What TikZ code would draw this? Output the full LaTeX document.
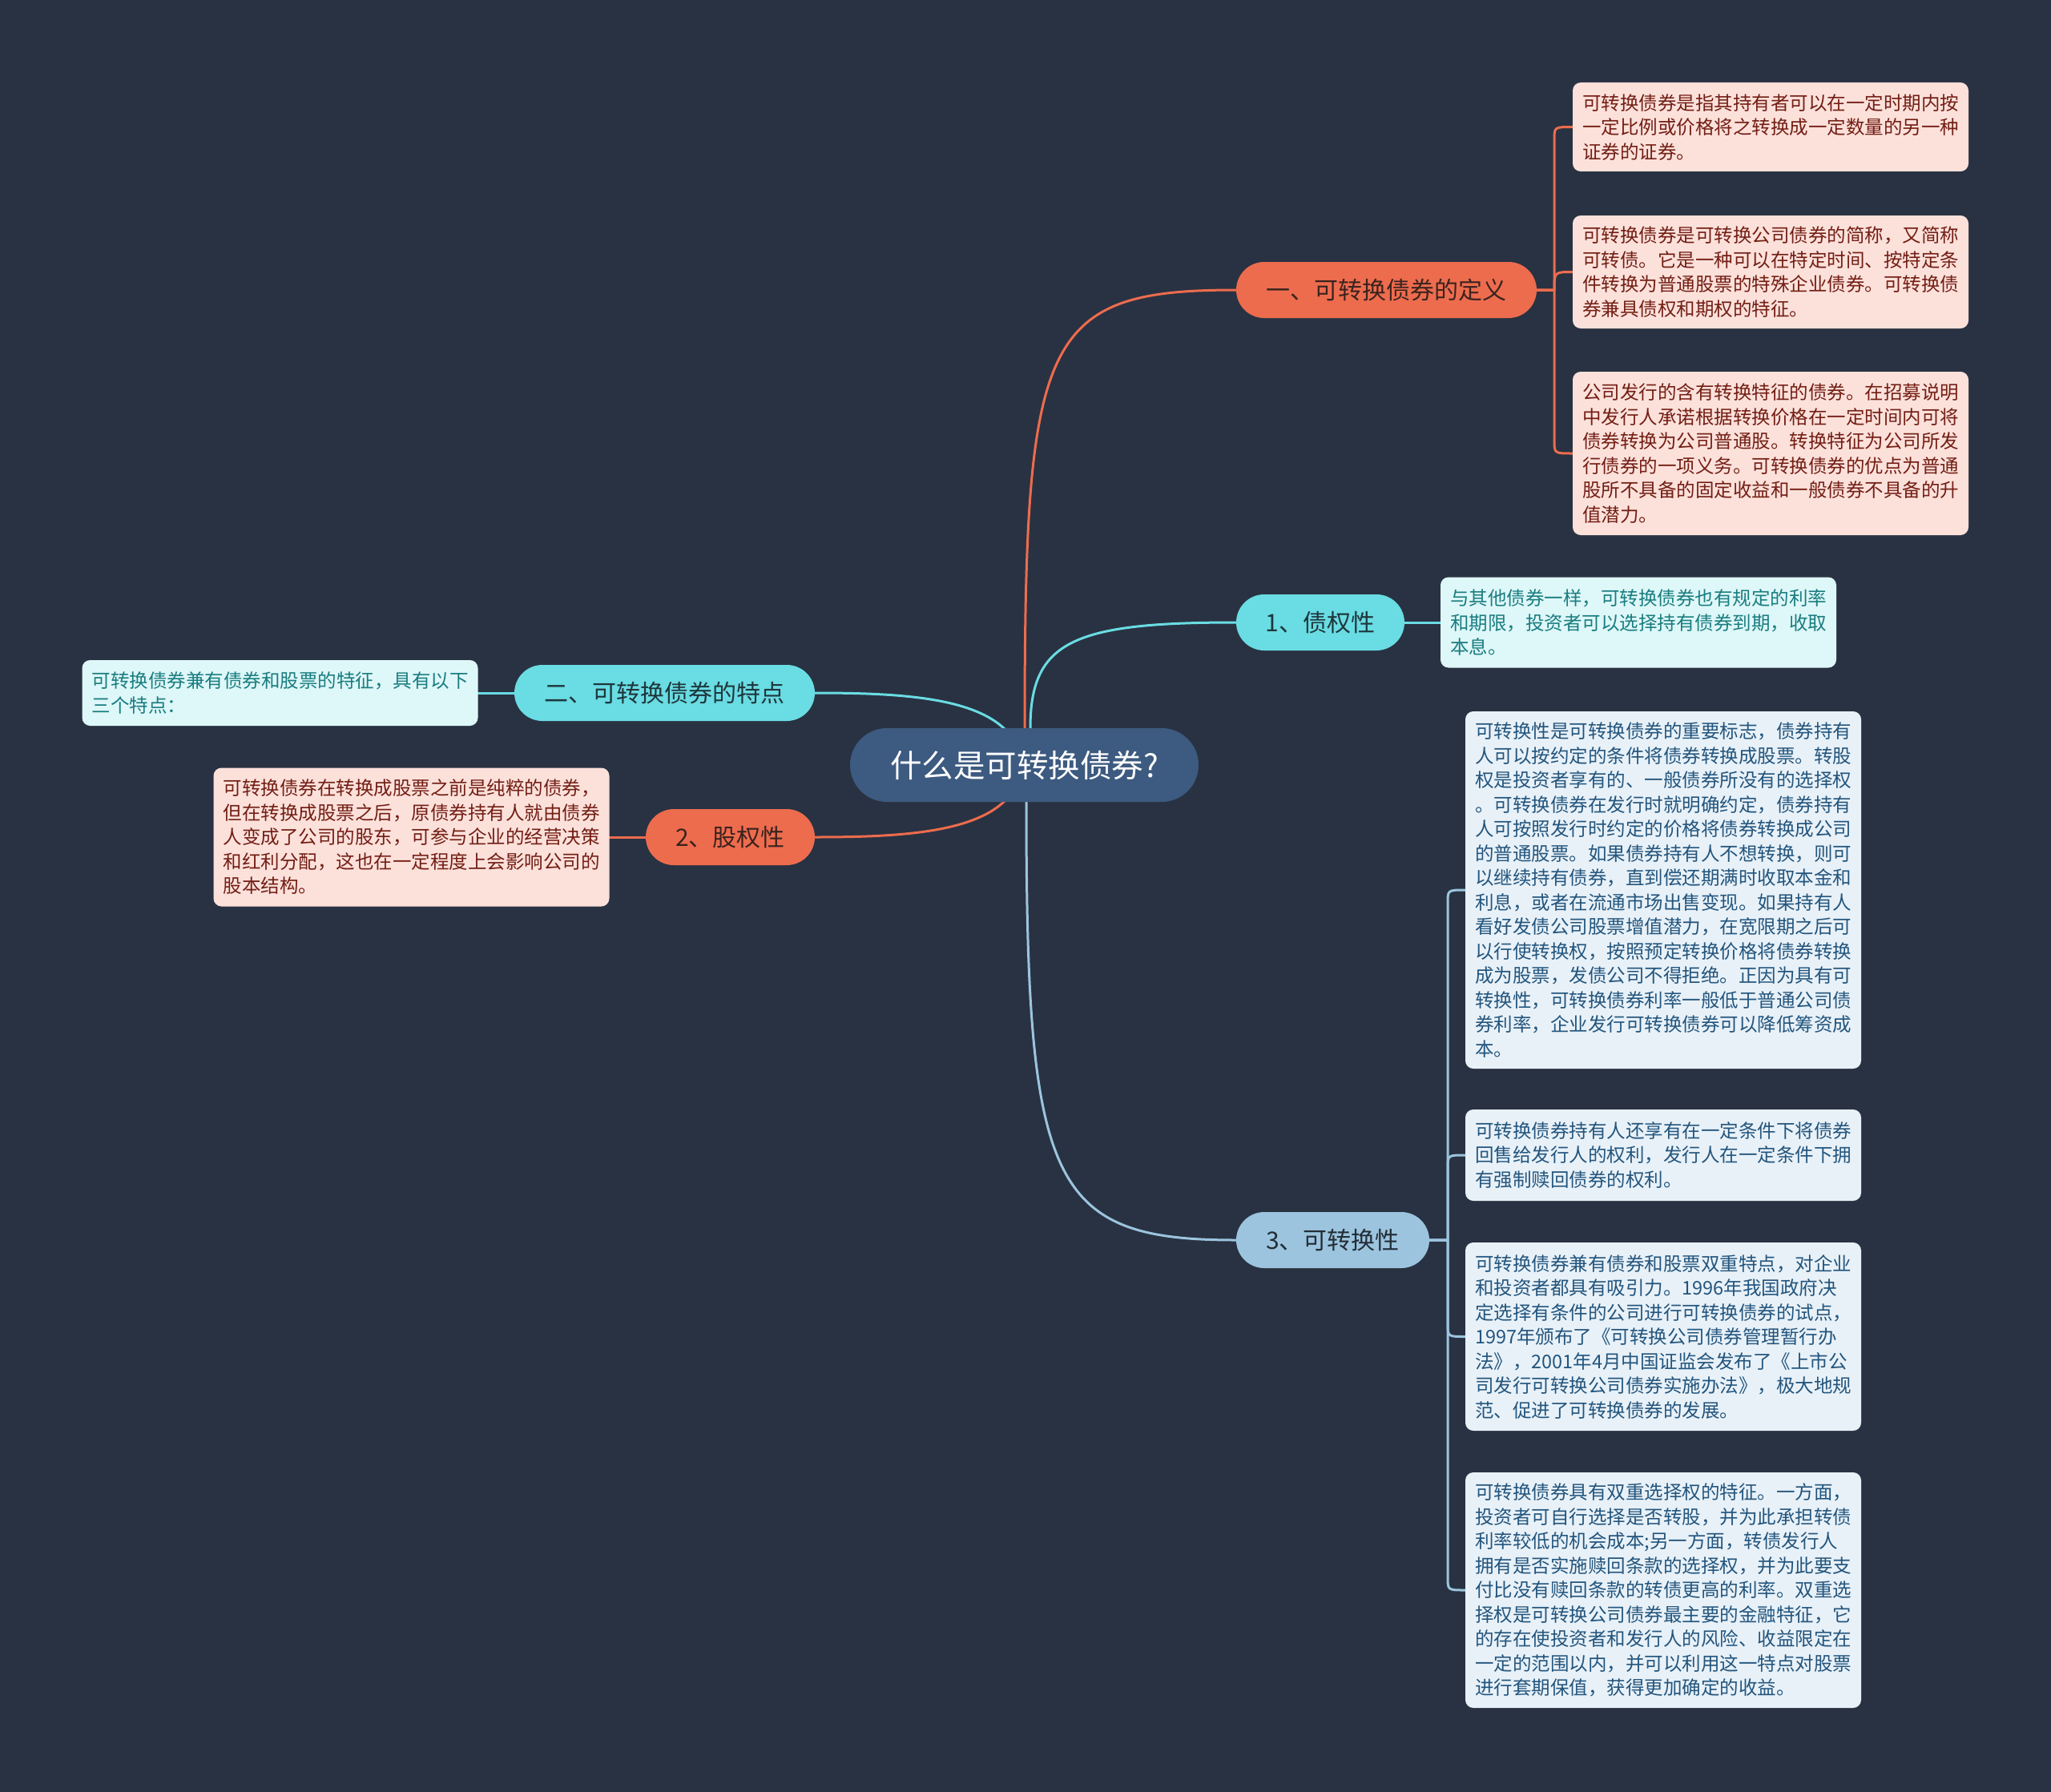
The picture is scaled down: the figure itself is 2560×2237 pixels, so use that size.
\documentclass[tikz,border=0pt]{standalone}
\usepackage{fontspec}
\setmainfont{Noto Sans CJK SC}
\usetikzlibrary{calc,backgrounds}
\definecolor{bgc}{RGB}{41,50,66}
\definecolor{rootc}{RGB}{61,90,128}
\definecolor{orng}{RGB}{237,108,78}
\definecolor{cyn}{RGB}{106,220,227}
\definecolor{blu}{RGB}{156,196,222}
\definecolor{orleaf}{RGB}{252,225,219}
\definecolor{ortext}{RGB}{115,30,20}
\definecolor{cyleaf}{RGB}{222,247,248}
\definecolor{cytext}{RGB}{25,125,128}
\definecolor{blleaf}{RGB}{232,241,248}
\definecolor{bltext}{RGB}{35,85,125}
\definecolor{ornodetext}{RGB}{60,35,30}
\definecolor{cynodetext}{RGB}{30,55,60}
\definecolor{blnodetext}{RGB}{35,45,55}
\tikzset{
  rootnode/.style={fill=rootc, rounded corners=46pt, minimum width=435pt, minimum height=92pt, inner sep=0pt, text=white, font=\fontsize{39.5}{44}\selectfont},
  topic/.style={rounded corners=35pt, minimum height=70pt, inner sep=0pt, font=\fontsize{30}{36}\selectfont},
  ortopic/.style={topic, fill=orng, text=ornodetext},
  cytopic/.style={topic, fill=cyn, text=cynodetext},
  bltopic/.style={topic, fill=blu, text=blnodetext},
  leaf/.style={rounded corners=10pt, text width=470pt, inner xsep=12pt, inner ysep=0pt, align=left, font=\fontsize{23.5}{30.5}\selectfont},
  orleafnode/.style={leaf, fill=orleaf, text=ortext},
  cyleafnode/.style={leaf, fill=cyleaf, text=cytext},
  blleafnode/.style={leaf, fill=blleaf, text=bltext},
  conn/.style={line width=3pt, line cap=round, line join=round},
}
\newcommand{\leafconn}[5]{%
  \draw[conn,#1] (#2.east) -- (#3) -- ($(#3 |- #4.west)+(0,#5)$) .. controls (#3 |- #4.west) .. (#4.west);}
\begin{document}
\begin{tikzpicture}[x=1pt,y=-1pt]
\useasboundingbox (0,0) rectangle (2560,2237);

% nodes
\node[rootnode] (c) at (1278.5,955) {什么是可转换债券?};
\node[ortopic, minimum width=375pt] (d1) at (1730.5,362) {一、可转换债券的定义};
\node[cytopic, minimum width=210pt] (d2) at (1648,777) {1、债权性};
\node[cytopic, minimum width=375pt] (e1) at (829.5,865) {二、可转换债券的特点};
\node[ortopic, minimum width=211pt] (e2) at (911.5,1045) {2、股权性};
\node[bltopic, minimum width=241pt] (d3) at (1663.5,1548) {3、可转换性};

\node[orleafnode, minimum height=111pt] (def1) at (2210,158.5) {可转换债券是指其持有者可以在一定时期内按\\一定比例或价格将之转换成一定数量的另一种\\证券的证券。};
\node[orleafnode, minimum height=141pt] (def2) at (2210,339.5) {可转换债券是可转换公司债券的简称，又简称\\可转债。它是一种可以在特定时间、按特定条\\件转换为普通股票的特殊企业债券。可转换债\\券兼具债权和期权的特征。};
\node[orleafnode, minimum height=204pt] (def3) at (2210,566) {公司发行的含有转换特征的债券。在招募说明\\中发行人承诺根据转换价格在一定时间内可将\\债券转换为公司普通股。转换特征为公司所发\\行债券的一项义务。可转换债券的优点为普通\\股所不具备的固定收益和一般债券不具备的升\\值潜力。};
\node[cyleafnode, minimum height=113pt] (z1) at (2045,777) {与其他债券一样，可转换债券也有规定的利率\\和期限，投资者可以选择持有债券到期，收取\\本息。};
\node[cyleafnode, minimum height=82pt] (t1) at (349.5,865) {可转换债券兼有债券和股票的特征，具有以下\\三个特点：};
\node[orleafnode, minimum height=173pt] (g1) at (513.5,1045) {可转换债券在转换成股票之前是纯粹的债券，\\但在转换成股票之后，原债券持有人就由债券\\人变成了公司的股东，可参与企业的经营决策\\和红利分配，这也在一定程度上会影响公司的\\股本结构。};
\node[blleafnode, minimum height=446pt] (k1) at (2076,1111) {可转换性是可转换债券的重要标志，债券持有\\人可以按约定的条件将债券转换成股票。转股\\权是投资者享有的、一般债券所没有的选择权\\。可转换债券在发行时就明确约定，债券持有\\人可按照发行时约定的价格将债券转换成公司\\的普通股票。如果债券持有人不想转换，则可\\以继续持有债券，直到偿还期满时收取本金和\\利息，或者在流通市场出售变现。如果持有人\\看好发债公司股票增值潜力，在宽限期之后可\\以行使转换权，按照预定转换价格将债券转换\\成为股票，发债公司不得拒绝。正因为具有可\\转换性，可转换债券利率一般低于普通公司债\\券利率，企业发行可转换债券可以降低筹资成\\本。};
\node[blleafnode, minimum height=114pt] (k2) at (2076,1442) {可转换债券持有人还享有在一定条件下将债券\\回售给发行人的权利，发行人在一定条件下拥\\有强制赎回债券的权利。};
\node[blleafnode, minimum height=235pt] (k3) at (2076,1668.5) {可转换债券兼有债券和股票双重特点，对企业\\和投资者都具有吸引力。1996年我国政府决\\定选择有条件的公司进行可转换债券的试点，\\1997年颁布了《可转换公司债券管理暂行办\\法》，2001年4月中国证监会发布了《上市公\\司发行可转换公司债券实施办法》，极大地规\\范、促进了可转换债券的发展。};
\node[blleafnode, minimum height=294pt] (k4) at (2076,1985) {可转换债券具有双重选择权的特征。一方面，\\投资者可自行选择是否转股，并为此承担转债\\利率较低的机会成本;另一方面，转债发行人\\拥有是否实施赎回条款的选择权，并为此要支\\付比没有赎回条款的转债更高的利率。双重选\\择权是可转换公司债券最主要的金融特征，它\\的存在使投资者和发行人的风险、收益限定在\\一定的范围以内，并可以利用这一特点对股票\\进行套期保值，获得更加确定的收益。};

\coordinate (cN1) at (1279,909);
\coordinate (cN2) at (1286,909);
\coordinate (cNL) at (1256,912);
\coordinate (cS1) at (1281,1001);
\coordinate (cSL) at (1256,998);
\coordinate (s1) at (1940,362);
\coordinate (s3) at (1807,1548);

\begin{scope}[on background layer]
\fill[bgc] (0,0) rectangle (2560,2237);
% connectors from root
\draw[conn,orng] (cN1) .. controls (1279,420) and (1300,362) .. (d1.west);
\draw[conn,cyn] (cN2) .. controls (1286,800) and (1340,777) .. (d2.west);
\draw[conn,cyn] (cNL) .. controls (1215,870) and (1120,865) .. (e1.east);
\draw[conn,orng] (cSL) .. controls (1215,1040) and (1120,1045) .. (e2.east);
\draw[conn,blu] (cS1) .. controls (1281,1480) and (1310,1548) .. (d3.west);
% straight leaf connectors
\draw[conn,cyn] (d2.east) -- (z1.west);
\draw[conn,cyn] (e1.west) -- (t1.east);
\draw[conn,orng] (e2.west) -- (g1.east);
% spine connectors
\leafconn{orng}{d1}{s1}{def1}{16}
\draw[conn,orng] (d1.east) -- (s1) .. controls (1940,339.5) .. (def2.west);
\leafconn{orng}{d1}{s1}{def3}{-16}
\leafconn{blu}{d3}{s3}{k1}{16}
\leafconn{blu}{d3}{s3}{k2}{16}
\leafconn{blu}{d3}{s3}{k3}{-16}
\leafconn{blu}{d3}{s3}{k4}{-16}
\end{scope}
\end{tikzpicture}
\end{document}
